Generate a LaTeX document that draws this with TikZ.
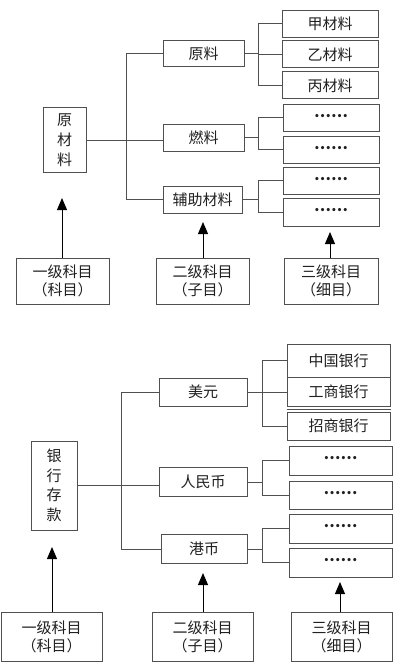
\documentclass[tikz,border=0pt]{standalone}
\usepackage{fontspec}
\setmainfont{Noto Sans CJK SC}
\usetikzlibrary{arrows.meta}
\definecolor{ln}{HTML}{505050}
\definecolor{tx}{HTML}{202020}
\newcommand{\dotsrow}{\raisebox{4.5pt}{\textbf{……}}}
\tikzset{
  box/.style={draw=ln, line width=1pt, fill=white, text=tx, inner sep=0pt, align=center,
    font=\fontsize{15}{18}\selectfont},
  vbox/.style={box, font=\fontsize{15}{20}\selectfont},
  wire/.style={draw=ln, line width=1pt},
  up/.style={draw=ln, line width=1pt, -{Triangle[width=10pt,length=12pt]}, black},
}
\begin{document}
\begin{tikzpicture}[x=1pt,y=-1pt]
\useasboundingbox (0,0) rectangle (400,668);
% ---------- top diagram ----------
\node[vbox, minimum width=43, minimum height=65] (m1) at (64.5,140.5) {原\\材\\料};
\node[box, minimum width=81, minimum height=26] (s1) at (203.5,54) {原料};
\node[box, minimum width=81, minimum height=27] (s2) at (203.5,138) {燃料};
\node[box, minimum width=79, minimum height=26] (s3) at (202.5,200) {辅助材料};
\node[box, minimum width=96, minimum height=27] (t1) at (330,24) {甲材料};
\node[box, minimum width=96, minimum height=27] (t2) at (330,54.5) {乙材料};
\node[box, minimum width=96, minimum height=27] (t3) at (330,85.5) {丙材料};
\node[box, minimum width=96, minimum height=27] (t4) at (331,118) {\dotsrow};
\node[box, minimum width=96, minimum height=27] (t5) at (331,150) {\dotsrow};
\node[box, minimum width=96, minimum height=27] (t6) at (331,181) {\dotsrow};
\node[box, minimum width=96, minimum height=27] (t7) at (331,212.5) {\dotsrow};
\node[box, minimum width=93, minimum height=46] (b1) at (62.5,281) {一级科目\\（科目）};
\node[box, minimum width=93, minimum height=46] (b2) at (202.5,281) {二级科目\\（子目）};
\node[box, minimum width=94, minimum height=46] (b3) at (331,281) {三级科目\\（细目）};
\coordinate (k1) at (126,0);
\coordinate (g1) at (258,0);
\draw[wire] (m1.east) -- (m1.east -| s2.west);
\draw[wire] (s1.west) -| (k1 |- s3.west) -- (s3.west);
\draw[wire] (s1.east) -- (g1 |- s1.east);
\draw[wire] (t1.west) -| (g1 |- t3.west) -- (t3.west);
\draw[wire] (g1 |- t2.west) -- (t2.west);
\draw[wire] (s2.east) -- (g1 |- s2.east);
\draw[wire] (t4.west) -| (g1 |- t5.west) -- (t5.west);
\draw[wire] (s3.east) -- (g1 |- s3.east);
\draw[wire] (t6.west) -| (g1 |- t7.west) -- (t7.west);
\coordinate (a1) at (62,198);
\coordinate (a2) at (203,222);
\coordinate (a3) at (330,232);
\draw[up] (b1.north -| a1) -- (a1);
\draw[up] (b2.north -| a2) -- (a2);
\draw[up] (b3.north -| a3) -- (a3);
% ---------- bottom diagram ----------
\node[vbox, font=\fontsize{15}{19.5}\selectfont, minimum width=46, minimum height=89] (m2) at (54,485.5) {银\\行\\存\\款};
\node[box, minimum width=88, minimum height=28] (u1) at (203,392) {美元};
\node[box, minimum width=88, minimum height=29] (u2) at (203,482) {人民币};
\node[box, minimum width=86, minimum height=29] (u3) at (204,549) {港币};
\node[box, minimum width=103, minimum height=33] (v1) at (338.5,360.5) {中国银行};
\node[box, minimum width=103, minimum height=29] (v2) at (338.5,391.5) {工商银行};
\node[box, minimum width=103, minimum height=28] (v3) at (338.5,426) {招商银行};
\node[box, minimum width=103, minimum height=29] (v4) at (340.5,460.5) {\dotsrow};
\node[box, minimum width=103, minimum height=28] (v5) at (340.5,495) {\dotsrow};
\node[box, minimum width=103, minimum height=29] (v6) at (340.5,528.5) {\dotsrow};
\node[box, minimum width=103, minimum height=29] (v7) at (340.5,562.5) {\dotsrow};
\draw[wire] ([yshift=-3]v2.south west) -- ([yshift=-3]v2.south east);
\node[box, minimum width=101, minimum height=49] (c1) at (51.5,636.5) {一级科目\\（科目）};
\node[box, minimum width=101, minimum height=49] (c2) at (202.5,636.5) {二级科目\\（子目）};
\node[box, minimum width=101, minimum height=49] (c3) at (341.5,636.5) {三级科目\\（细目）};
\coordinate (k2) at (121,0);
\coordinate (g2) at (262,0);
\draw[wire] (m2.east) -- (m2.east -| u2.west);
\draw[wire] (u1.west) -| (k2 |- u3.west) -- (u3.west);
\draw[wire] (u1.east) -- (g2 |- u1.east);
\draw[wire] (v1.west) -| (g2 |- v3.west) -- (v3.west);
\draw[wire] (g2 |- u1.east) -- (u1.east -| v2.west);
\draw[wire] (u2.east) -- (g2 |- u2.east);
\draw[wire] (v4.west) -| (g2 |- v5.west) -- (v5.west);
\draw[wire] (u3.east) -- (g2 |- u3.east);
\draw[wire] (v6.west) -| (g2 |- v7.west) -- (v7.west);
\coordinate (d1) at (52,547);
\coordinate (d2) at (203,573);
\coordinate (d3) at (340,582);
\draw[up] (c1.north -| d1) -- (d1);
\draw[up] (c2.north -| d2) -- (d2);
\draw[up] (c3.north -| d3) -- (d3);
\end{tikzpicture}
\end{document}
